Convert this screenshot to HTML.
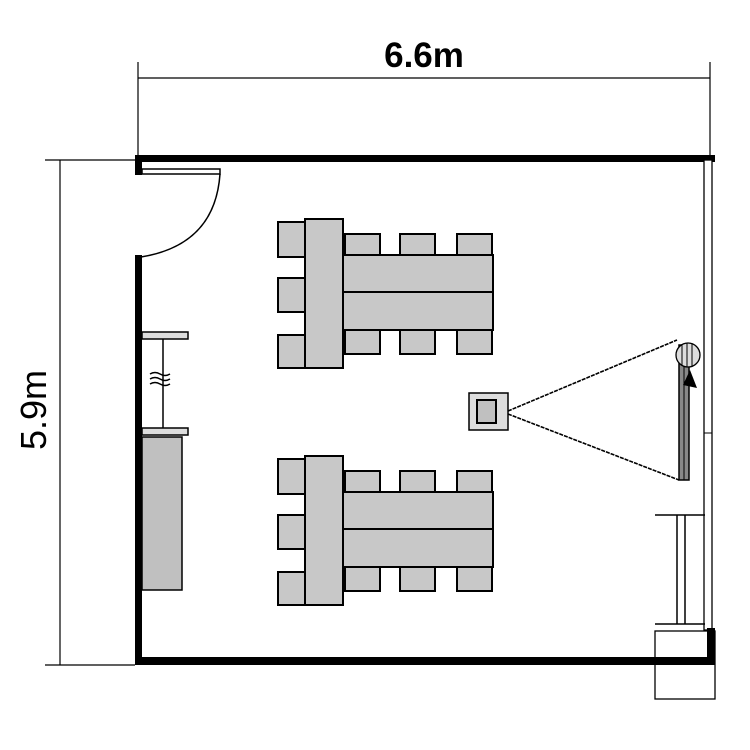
<!DOCTYPE html><html><head><style>body{margin:0;background:#fff}svg{display:block}</style></head><body>
<svg width="750" height="750" viewBox="0 0 750 750" xmlns="http://www.w3.org/2000/svg" font-family="Liberation Sans, sans-serif">
<rect width="750" height="750" fill="#fff"/>
<g stroke="#000" stroke-width="1.2" fill="none">
<line x1="138" y1="78" x2="710" y2="78"/>
<line x1="138" y1="62" x2="138" y2="155"/>
<line x1="710" y1="62" x2="710" y2="155"/>
<line x1="60" y1="160" x2="60" y2="665"/>
<line x1="45" y1="160" x2="135" y2="160"/>
<line x1="45" y1="665" x2="135" y2="665"/>
</g>
<text x="424" y="67" font-size="35" font-weight="bold" text-anchor="middle">6.6m</text>
<text transform="translate(46,410) rotate(-90)" font-size="36" text-anchor="middle">5.9m</text>
<rect x="135" y="155" width="580" height="7" fill="#000"/>
<rect x="135" y="155" width="7" height="20" fill="#000"/>
<rect x="142" y="169" width="78" height="5" fill="#fff" stroke="#000" stroke-width="1.5"/>
<path d="M220,174 Q215,245 141,257" fill="none" stroke="#000" stroke-width="1.5"/>
<rect x="135" y="255" width="7" height="410" fill="#000"/>
<rect x="135" y="657" width="580" height="8" fill="#000"/>
<rect x="704" y="160" width="8" height="470" fill="#fff" stroke="#000" stroke-width="1.3"/>
<line x1="704" y1="433" x2="712" y2="433" stroke="#000"/>
<rect x="707" y="628" width="8" height="37" fill="#000"/>
<rect x="655" y="631" width="60" height="68" fill="none" stroke="#000" stroke-width="1.3"/>
<g stroke="#000" stroke-width="1.5" fill="none">
<line x1="655" y1="515" x2="705" y2="515"/>
<line x1="677" y1="515" x2="677" y2="624"/>
<line x1="685" y1="515" x2="685" y2="624"/>
<line x1="655" y1="624" x2="705" y2="624"/>
</g>
<g stroke="#000" stroke-width="1.5">
<rect x="142" y="332" width="46" height="7" fill="#ddd"/>
<rect x="142" y="428" width="46" height="7" fill="#ddd"/>
<line x1="163" y1="339" x2="163" y2="428"/>
<path d="M150,374 q5,-3 10,0 t10,0 M150,379 q5,-3 10,0 t10,0 M150,384 q5,-3 10,0 t10,0" fill="none"/>
<rect x="142" y="437" width="40" height="153" fill="#c0c0c0"/>
</g>
<defs>
<g id="grp" stroke="#000" stroke-width="2" fill="#c8c8c8">
<rect x="278" y="222" width="27" height="35"/><rect x="278" y="278" width="27" height="34"/><rect x="278" y="335" width="27" height="33"/>
<rect x="345" y="234" width="35" height="21"/><rect x="400" y="234" width="35" height="21"/><rect x="457" y="234" width="35" height="21"/>
<rect x="345" y="330" width="35" height="24"/><rect x="400" y="330" width="35" height="24"/><rect x="457" y="330" width="35" height="24"/>
<rect x="343" y="255" width="150" height="37"/><rect x="343" y="292" width="150" height="38"/>
<rect x="305" y="219" width="38" height="149"/>
</g>
</defs>
<use href="#grp"/>
<use href="#grp" transform="translate(0,237)"/>
<rect x="469" y="393" width="39" height="37" fill="#ddd" stroke="#000" stroke-width="1.5"/>
<rect x="477" y="400" width="19" height="23" fill="#c0c0c0" stroke="#000" stroke-width="2"/>
<g stroke="#000" stroke-width="1.6" stroke-dasharray="4,1">
<line x1="508" y1="411" x2="677" y2="340"/>
<line x1="508" y1="414" x2="679" y2="480"/>
</g>
<rect x="679" y="345" width="10" height="135" fill="#888" stroke="#000" stroke-width="1.5"/>
<line x1="684" y1="345" x2="684" y2="480" stroke="#000"/>
<circle cx="688" cy="355" r="12" fill="#ddd" stroke="#000" stroke-width="1.3"/>
<line x1="682" y1="344" x2="682" y2="366" stroke="#000"/><line x1="687" y1="343" x2="687" y2="367" stroke="#000"/><line x1="692" y1="344" x2="692" y2="366" stroke="#000"/>
<polygon points="683,385 690,370 697,388" fill="#000"/>
</svg>
</body></html>
